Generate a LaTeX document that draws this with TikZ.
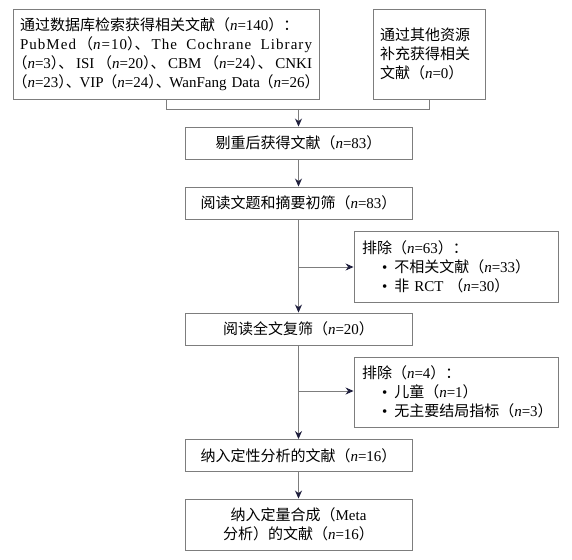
\documentclass[tikz,border=0pt]{standalone}
\usepackage{fontspec}
\setmainfont{Liberation Serif}
\newfontfamily\cjkfont{Noto Sans CJK SC}
\newfontfamily\cjkhalt{Noto Sans CJK SC}[RawFeature=+halt]
\newcommand{\C}[1]{{\cjkfont #1}}
\newcommand{\Ch}[1]{{\cjkhalt #1}}
\newcommand{\nn}{\textit{n}}
\newcommand{\gp}{\hskip 3pt plus 1fil\relax}
\newcommand{\jline}[1]{\leavevmode\hbox to 292pt{#1}}
\usetikzlibrary{arrows.meta}
\definecolor{linegray}{RGB}{125,125,125}
\definecolor{tipnavy}{RGB}{30,30,60}
\tikzset{
  box/.style={draw=linegray, line width=0.9pt, fill=white, inner sep=0pt, minimum height=32pt, minimum width=227pt, font=\fontsize{15}{19}\selectfont, align=center},
  exbox/.style={draw=linegray, line width=0.9pt, fill=white, inner sep=0pt, minimum width=204pt, minimum height=71pt, text width=188pt, font=\fontsize{15}{19}\selectfont, align=left},
  conn/.style={draw=linegray, line width=0.9pt},
  arr/.style={conn, -{Stealth[length=8pt, width=7pt, color=tipnavy]}}
}
\begin{document}
\begin{tikzpicture}[x=1pt, y=-1pt]
\useasboundingbox (0,0) rectangle (572,559);
\node[box, minimum width=306pt, minimum height=90pt, text width=292pt, align=left] (db) at (166,54)
  {\C{通过数据库检索获得相关文献（}\nn=140\C{）：}\\
   \jline{\addfontfeature{LetterSpace=7}PubMed\gp\Ch{（}\nn=10\Ch{）、}\gp The\gp Cochrane\gp Library}\\
   \jline{\Ch{（}\nn=3\Ch{）、}\gp ISI\gp\Ch{（}\nn=20\Ch{）、}\gp CBM\gp\Ch{（}\nn=24\Ch{）、}\gp CNKI}\\
   \jline{\Ch{（}\nn=23\Ch{）、}\gp VIP\gp\Ch{（}\nn=24\Ch{）、}\gp WanFang Data\gp\Ch{（}\nn=26\Ch{）}}};
\node[box, minimum width=112pt, minimum height=90pt, text width=98pt, align=left] (other) at (429,54)
  {\C{通过其他资源}\\\C{补充获得相关}\\\C{文献（}\nn=0\C{）}};
\node[box] (dedup) at (298.5,143) {\C{剔重后获得文献（}\nn=83\C{）}};
\node[box] (screen) at (298.5,203) {\C{阅读文题和摘要初筛（}\nn=83\C{）}};
\node[exbox] (ex1) at (456,266.5)
  {\mbox{\C{排除（}\nn=63\C{）：}}\\
   \mbox{\hspace*{20pt}•\hspace{7pt}\C{不相关文献（}\nn=33\C{）}}\\
   \mbox{\hspace*{20pt}•\hspace{7pt}\C{非} RCT \C{（}\nn=30\C{）}}};
\node[box] (full) at (298.5,329) {\C{阅读全文复筛（}\nn=20\C{）}};
\node[exbox, minimum height=70pt] (ex2) at (456,392)
  {\mbox{\C{排除（}\nn=4\C{）：}}\\
   \mbox{\hspace*{20pt}•\hspace{7pt}\C{儿童（}\nn=1\C{）}}\\
   \mbox{\hspace*{20pt}•\hspace{7pt}\C{无主要结局指标（}\nn=3\C{）}}};
\node[box] (qual) at (298.5,455.5) {\C{纳入定性分析的文献（}\nn=16\C{）}};
\node[box, minimum height=51pt] (meta) at (298.5,524.5)
  {\C{纳入定量合成（}Meta\\\C{分析）的文献（}\nn=16\C{）}};
\coordinate (mL) at (166,109);
\coordinate (mR) at (429,109);
\coordinate (mC) at (298.5,109);
\coordinate (b1) at (298.5,267);
\coordinate (b2) at (298.5,391);
\draw[conn] (db.south -| mL) -- (mL) -- (mR) -- (other.south -| mR);
\draw[arr] (mC) -- (dedup.north);
\draw[arr] (dedup) -- (screen);
\draw[arr] (screen) -- (full);
\draw[arr] (b1) -- (b1 -| ex1.west);
\draw[arr] (full) -- (qual);
\draw[arr] (b2) -- (b2 -| ex2.west);
\draw[arr] (qual) -- (meta);
\end{tikzpicture}
\end{document}
